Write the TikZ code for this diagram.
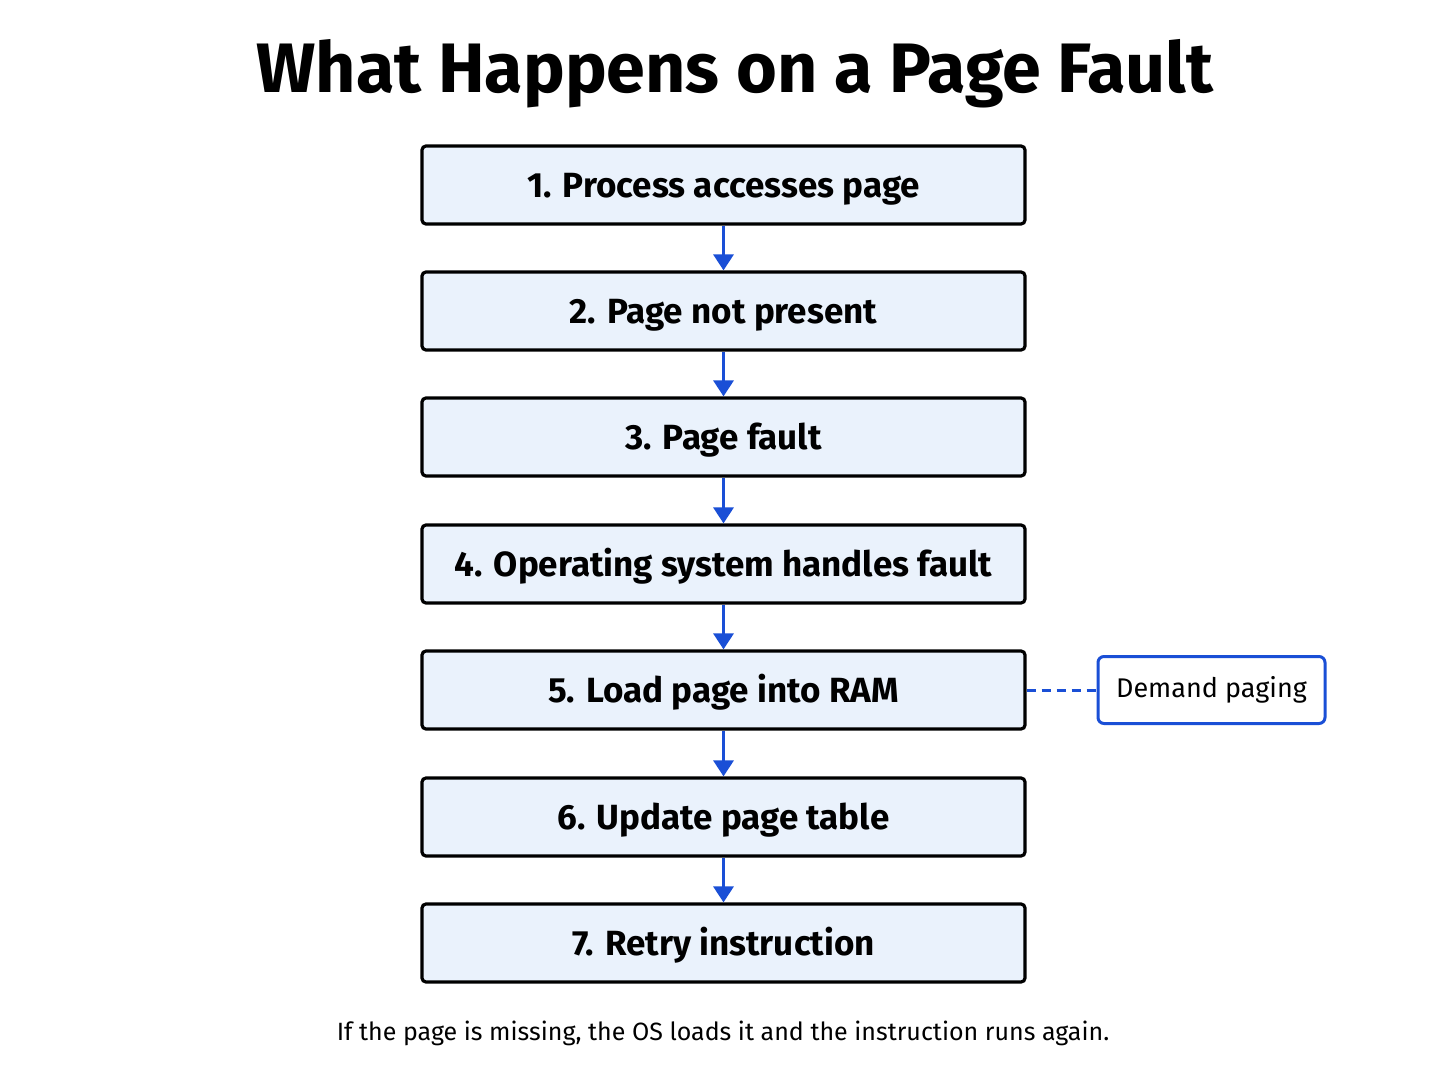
\documentclass[tikz,border=0pt]{standalone}
\usepackage{fontspec}
\setmainfont{Fira Sans}
\usetikzlibrary{arrows.meta}
\definecolor{boxfill}{HTML}{EAF2FC}
\definecolor{arrblue}{HTML}{1A4FD6}
\begin{document}
\begin{tikzpicture}[x=1pt,y=-1pt,
  stepbox/.style={draw=black,fill=boxfill,line width=3.2pt,rounded corners=4pt,minimum width=603pt,minimum height=78pt,inner sep=0pt,text height=32pt,text depth=7pt,font=\fontsize{35}{40}\selectfont\bfseries},
  notebox/.style={draw=arrblue,fill=white,line width=3pt,rounded corners=6pt,minimum width=227pt,minimum height=67pt,inner sep=0pt,font=\fontsize{27}{32}\selectfont},
  flow/.style={draw=arrblue,line width=3.2pt,-{Triangle[length=16pt,width=20pt]}},
  link/.style={draw=arrblue,line width=3pt,dash pattern=on 9pt off 6pt}]
\useasboundingbox[fill=white] (0,0) rectangle (1448,1086);
\node[font=\fontsize{70}{76}\selectfont\bfseries] (title) at (735,74) {What Happens on a Page Fault};
\node[stepbox] (s1) at (723.5,185) {1. Process accesses page};
\node[stepbox] (s2) at (723.5,311) {2. Page not present};
\node[stepbox] (s3) at (723.5,437) {3. Page fault};
\node[stepbox] (s4) at (723.5,564) {4. Operating system handles fault};
\node[stepbox] (s5) at (723.5,690) {5. Load page into RAM};
\node[stepbox] (s6) at (723.5,817) {6. Update page table};
\node[stepbox] (s7) at (723.5,943) {7. Retry instruction};
\node[notebox] (note) at (1211.5,690) {Demand paging};
\foreach \a/\b in {s1/s2,s2/s3,s3/s4,s4/s5,s5/s6,s6/s7}
  \draw[flow] (\a.south) -- (\b.north);
\draw[link] (s5.east) -- (note.west);
\node[font=\fontsize{25}{30}\selectfont] (cap) at (723,1033) {If the page is missing, the OS loads it and the instruction runs again.};
\end{tikzpicture}
\end{document}
